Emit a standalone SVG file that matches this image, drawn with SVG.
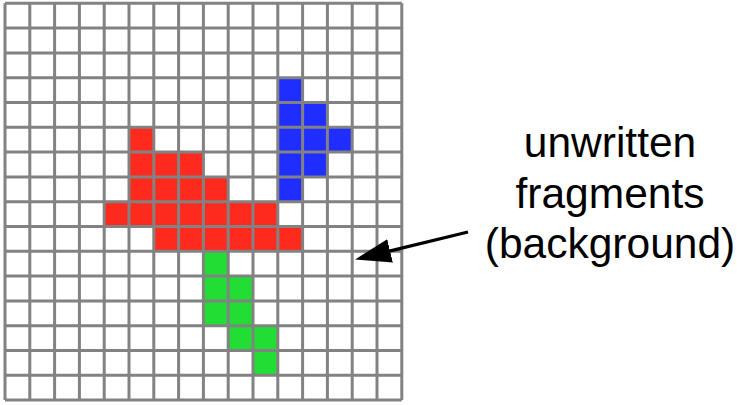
<svg xmlns="http://www.w3.org/2000/svg" width="737" height="405" viewBox="0 0 737 405">
<style>
.red{fill:#ff2a1e}
.blue{fill:#1f2dff}
.green{fill:#22dd33}
.grid{fill:none;stroke:#828282;stroke-width:3}
.label{font-family:"Liberation Sans",Arial,sans-serif;font-size:42.5px;fill:#000;text-anchor:middle}
.conn{stroke:#000;stroke-width:3.2;fill:none}
</style>
<defs>
<marker id="ah" viewBox="0 0 36 24" refX="5" refY="12" markerWidth="36" markerHeight="24" markerUnits="userSpaceOnUse" orient="auto">
<path d="M0 0L36 12L0 24z" fill="#000"/>
</marker>
</defs>
<rect width="737" height="405" fill="#fff"/>
<g transform="translate(5,3.3) scale(24.8)">
<g id="red-fragments" class="red">
<rect x="5" y="5" width="1" height="1"/>
<rect x="5" y="6" width="3" height="1"/>
<rect x="5" y="7" width="4" height="1"/>
<rect x="4" y="8" width="7" height="1"/>
<rect x="6" y="9" width="6" height="1"/>
</g>
<g id="blue-fragments" class="blue">
<rect x="11" y="3" width="1" height="1"/>
<rect x="11" y="4" width="2" height="1"/>
<rect x="11" y="5" width="3" height="1"/>
<rect x="11" y="6" width="2" height="1"/>
<rect x="11" y="7" width="1" height="1"/>
</g>
<g id="green-fragments" class="green">
<rect x="8" y="10" width="1" height="1"/>
<rect x="8" y="11" width="2" height="1"/>
<rect x="8" y="12" width="2" height="1"/>
<rect x="9" y="13" width="2" height="1"/>
<rect x="10" y="14" width="1" height="1"/>
</g>
<g id="grid">
<path class="grid" vector-effect="non-scaling-stroke" d="M0 0V16M1 0V16M2 0V16M3 0V16M4 0V16M5 0V16M6 0V16M7 0V16M8 0V16M9 0V16M10 0V16M11 0V16M12 0V16M13 0V16M14 0V16M15 0V16M16 0V16M0 0H16M0 1H16M0 2H16M0 3H16M0 4H16M0 5H16M0 6H16M0 7H16M0 8H16M0 9H16M0 10H16M0 11H16M0 12H16M0 13H16M0 14H16M0 15H16M0 16H16"/>
</g>
</g>
<g id="label">
<text class="label" x="610" y="157">unwritten</text>
<text class="label" x="610" y="207.5">fragments</text>
<text class="label" x="610" y="258">(background)</text>
</g>
<g id="connectors">
<path class="conn" d="M468 232L385.2 252.1" marker-end="url(#ah)"/>
</g>
</svg>
